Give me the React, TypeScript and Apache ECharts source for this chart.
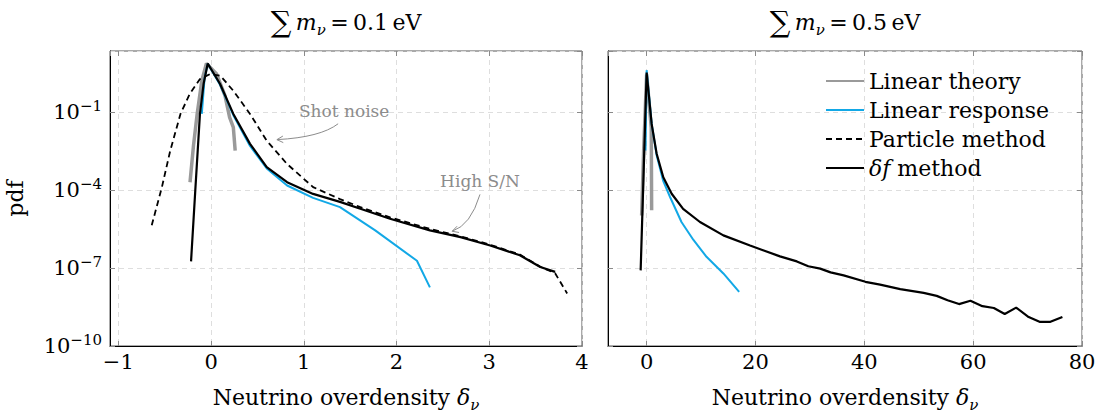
import React, { useEffect, useRef } from 'react';
import * as echarts from 'echarts';

const FONT = 'DejaVu Serif';

// ---------- Left panel: sum m_nu = 0.1 eV ----------
const ltX1 = [-0.227, -0.19, -0.15, -0.1, -0.05, 0.06, 0.15, 0.2, 0.24, 0.26];
const ltY1 = [2.0e-4, 5.0e-3, 8.5e-2, 1.6, 7.4, 2.9, 0.43, 6.3e-2, 2.6e-2, 3.3e-3];
const lrX1 = [-0.1, -0.07, -0.036, 0.097, 0.24, 0.42, 0.6, 0.82, 1.1, 1.39, 1.77, 2.22, 2.36];
const lrY1 = [8.5e-2, 2.0, 7.2, 1.12, 7.6e-2, 5.0e-3, 6.8e-4, 1.5e-4, 5.0e-5, 2.2e-5, 2.8e-6, 1.9e-7, 1.8e-8];
const pmX1 = [-0.64, -0.53, -0.44, -0.33, -0.23, -0.12, -0.01, 0.1, 0.24, 0.42, 0.6, 0.82, 1.1, 1.39, 1.61, 1.93, 2.36, 2.69, 3.01, 3.33, 3.55, 3.71, 3.84];
const pmY1 = [4.4e-6, 1.3e-4, 3.3e-3, 8.5e-2, 0.5, 1.86, 2.9, 2.5, 0.66, 8.5e-2, 7.9e-3, 1.0e-3, 1.3e-4, 4.5e-5, 2.2e-5, 8.9e-6, 3.2e-6, 1.66e-6, 7.9e-7, 3.3e-7, 1.12e-7, 6.3e-8, 1.05e-8];
const dfX1 = [-0.216, -0.17, -0.12, -0.08, -0.036, 0.097, 0.24, 0.42, 0.6, 0.82, 1.1, 1.39, 1.61, 1.93, 2.36, 2.69, 3.01, 3.33, 3.55, 3.71];
const dfY1 = [1.8e-7, 1.0e-4, 8.5e-2, 1.26, 7.4, 1.2, 8.5e-2, 6.0e-3, 7.6e-4, 2.0e-4, 7.1e-5, 3.5e-5, 1.9e-5, 7.9e-6, 2.8e-6, 1.55e-6, 7.4e-7, 3.1e-7, 1.1e-7, 7.1e-8];

// ---------- Right panel: sum m_nu = 0.5 eV ----------
const ltX2 = [-0.92, -0.55, 0, 0.85, 0.92];
const ltY2 = [1.05e-5, 3.2e-3, 2.8, 2.5e-2, 1.66e-5];
const lrX2 = [-0.2, 0, 0.92, 1.84, 3.06, 4.3, 6.4, 8.6, 11.0, 14.1, 17];
const lrY2 = [3.3e-3, 4.1, 3.5e-2, 2.2e-3, 2.2e-4, 5.4e-5, 5.9e-6, 1.2e-6, 2.7e-7, 6.2e-8, 1.2e-8];
const dfX2 = [-1.1, 0, 0.92, 1.84, 3.06, 4.6, 6.7, 9.8, 14.1, 19, 24.5, 27.6, 29.7, 31.9, 33.8, 36.2, 40.2, 42.9, 46.6, 50.9, 53.3, 55.3, 57.4, 59.5, 61.7, 63.8, 65.8, 67.9, 70.2, 72.2, 74.2, 76.4];
const dfY2 = [8.1e-8, 3.3, 3.5e-2, 2.5e-3, 3.1e-4, 7.2e-5, 1.9e-5, 5.9e-6, 1.8e-6, 7.4e-7, 2.8e-7, 1.8e-7, 1.17e-7, 9.5e-8, 6.8e-8, 5.2e-8, 2.95e-8, 2.3e-8, 1.55e-8, 1.1e-8, 8.5e-9, 5.8e-9, 4.1e-9, 5.5e-9, 3.4e-9, 2.9e-9, 1.7e-9, 3.0e-9, 1.3e-9, 8.5e-10, 8.5e-10, 1.3e-9];

// ---------- Axes ----------
const xRange1 = [-1.09, 4];
const xRange2 = [-7.1, 80];
const yRange = [1e-10, 22.4];
const yTickStep = 3; // decades between labelled ticks
const panelTitles = ['0.1', '0.5'];
const seriesNames = ['Linear theory', 'Linear response', 'Particle method', 'δf method'];

// annotations (data coordinates, left panel)
const notes = [
  { text: 'Shot noise', at: [1.435, 0.113], from: [1.37, 0.0355], ctrl: [1.18, 0.0107], to: [0.71, 0.0087] },
  { text: 'High S/N', at: [2.9, 2.3e-4], from: [2.9, 6.8e-5], ctrl: [2.8, 4.4e-6], to: [2.6, 2.6e-6] },
];

const COLORS = { lt: '#9a9a9a', lr: '#12a8e6', pm: '#000000', df: '#000000' };

const pair = (xs: number[], ys: number[]) => xs.map((x, i) => [x, ys[i]]);

const mathRich = (size: number) => ({
  t: { fontFamily: FONT, fontSize: size, lineHeight: 30, color: '#000' },
  i: { fontFamily: FONT, fontSize: size, fontStyle: 'italic', lineHeight: 30, color: '#000' },
  s: { fontFamily: FONT, fontSize: Math.round(size * 0.68), fontStyle: 'italic', lineHeight: 14, verticalAlign: 'bottom', color: '#000' },
  sum: { fontFamily: FONT, fontSize: Math.round(size * 1.3), lineHeight: 30, color: '#000' },
});

const fmtX = (v: number) => {
  if (Math.abs(v - Math.round(v)) > 1e-6) return '';
  const r = Math.round(v);
  return r < 0 ? '\u2212' + Math.abs(r) : String(r);
};
const fmtY = (v: number) => {
  if (Math.abs(v - Math.round(v)) > 1e-6) return '';
  const r = Math.round(v);
  return `{b|10}{p|${r < 0 ? '\u2212' : ''}${Math.abs(r)}}`;
};

const gridLine = { show: true, lineStyle: { color: '#dedede', type: [5, 4], width: 1 } };
const tickStyle = { show: true, inside: true, length: 5, lineStyle: { color: '#8a8a8a', width: 1 } };

function xAxes(gridIndex: number, range: number[], title: string) {
  return [
    {
      type: 'value', gridIndex, min: range[0], max: range[1], splitNumber: 5, position: 'bottom',
      axisLine: { show: true, onZero: false, lineStyle: { color: '#000', width: 1 } },
      axisTick: tickStyle,
      axisLabel: { formatter: fmtX, margin: 5, color: '#000', fontSize: 21, fontFamily: FONT, showMinLabel: false },
      splitLine: gridLine,
      name: '{t|Neutrino overdensity }{i|δ}{s|ν}', nameLocation: 'middle', nameGap: 36,
      nameTextStyle: { rich: mathRich(22) },
    },
    {
      type: 'value', gridIndex, min: range[0], max: range[1], splitNumber: 5, position: 'top',
      axisLine: { show: false, onZero: false },
      axisTick: tickStyle, axisLabel: { show: false }, splitLine: { show: false },
      name: `{sum|\u2211}{t|\u2009}{i|m}{s|ν}{t|\u2009=\u2009${title}\u2009eV}`, nameLocation: 'middle', nameGap: 14,
      nameTextStyle: { rich: mathRich(22) },
    },
  ];
}

function yAxes(gridIndex: number, labels: boolean) {
  const lmin = Math.log10(yRange[0]);
  const lmax = Math.log10(yRange[1]);
  return [
    { type: 'log', logBase: 10, gridIndex, min: yRange[0], max: yRange[1], show: false },
    {
      type: 'value', gridIndex, min: lmin, max: lmax, interval: yTickStep, position: 'left',
      axisLine: { show: true, onZero: false, lineStyle: { color: '#000', width: 1 } },
      axisTick: tickStyle,
      axisLabel: labels
        ? {
            formatter: fmtY, margin: 8, showMaxLabel: false,
            rich: {
              b: { fontFamily: FONT, fontSize: 21, lineHeight: 28, color: '#000' },
              p: { fontFamily: FONT, fontSize: 15, lineHeight: 14, verticalAlign: 'top', color: '#000' },
            },
          }
        : { show: false },
      splitLine: gridLine,
      name: labels ? 'pdf' : '', nameLocation: 'middle', nameGap: 84, nameRotate: 90,
      nameTextStyle: { fontFamily: FONT, fontSize: 22, color: '#000' },
    },
    {
      type: 'value', gridIndex, min: lmin, max: lmax, interval: yTickStep, position: 'right',
      axisLine: { show: false, onZero: false }, axisTick: tickStyle,
      axisLabel: { show: false }, splitLine: { show: false },
    },
  ];
}

function line(name: string, data: number[][], xi: number, yi: number, color: string, width: number, dashed = false, z = 2) {
  return {
    name, type: 'line', xAxisIndex: xi, yAxisIndex: yi, data, symbol: 'none', showSymbol: false,
    color, lineStyle: { color, width, type: dashed ? [6, 4] : 'solid' }, z, silent: true,
  };
}

const option: any = {
  animation: false,
  backgroundColor: '#ffffff',
  textStyle: { fontFamily: FONT },
  grid: [
    { left: 110, top: 51, width: 472, height: 295, show: true, borderColor: '#555', borderWidth: 1, containLabel: false, outerBoundsMode: 'none' },
    { left: 608, top: 51, width: 474, height: 295, show: true, borderColor: '#555', borderWidth: 1, containLabel: false, outerBoundsMode: 'none' },
  ],
  xAxis: [...xAxes(0, xRange1, panelTitles[0]), ...xAxes(1, xRange2, panelTitles[1])],
  yAxis: [...yAxes(0, true), ...yAxes(1, false)],
  legend: {
    orient: 'vertical', left: 825, top: 70, padding: 0, itemWidth: 38, itemHeight: 12, itemGap: 7,
    data: seriesNames,
    itemStyle: { opacity: 0, color: 'rgba(0,0,0,0)', borderWidth: 0 },
    formatter: (name: string) => (name === 'δf method' ? '{i|δf}{t| method}' : `{t|${name}}`),
    textStyle: {
      fontFamily: FONT, fontSize: 22, lineHeight: 22, color: '#000',
      rich: {
        t: { fontFamily: FONT, fontSize: 22, lineHeight: 22, color: '#000' },
        i: { fontFamily: FONT, fontSize: 22, lineHeight: 22, fontStyle: 'italic', color: '#000' },
      },
    },
  },
  series: [
    line(seriesNames[0], pair(ltX1, ltY1), 0, 0, COLORS.lt, 3.5),
    line(seriesNames[1], pair(lrX1, lrY1), 0, 0, COLORS.lr, 2),
    line(seriesNames[2], pair(pmX1, pmY1), 0, 0, COLORS.pm, 1.8, true),
    line(seriesNames[3], pair(dfX1, dfY1), 0, 0, COLORS.df, 2.2),
    line(seriesNames[0], pair(ltX2, ltY2), 2, 3, COLORS.lt, 3.5),
    line(seriesNames[1], pair(lrX2, lrY2), 2, 3, COLORS.lr, 2),
    line(seriesNames[3], pair(dfX2, dfY2), 2, 3, COLORS.df, 2.2),
  ],
};

export default function App() {
  const ref = useRef<HTMLDivElement>(null);
  useEffect(() => {
    const chart = echarts.init(ref.current!, null, { renderer: 'svg' });
    chart.setOption(option);
    const px = (p: number[]) => chart.convertToPixel({ xAxisIndex: 0, yAxisIndex: 0 }, p) as number[];
    const gray = '#8c8c8c';
    const elements: any[] = [];
    notes.forEach((n) => {
      const a = px(n.at), f = px(n.from), c = px(n.ctrl), t = px(n.to);
      elements.push({
        type: 'text', x: a[0], y: a[1], silent: true,
        style: { text: n.text, fill: gray, font: `17px "${FONT}"`, align: 'center', verticalAlign: 'middle' },
      });
      elements.push({
        type: 'bezierCurve', silent: true,
        shape: { x1: f[0], y1: f[1], x2: t[0], y2: t[1], cpx1: c[0], cpy1: c[1] },
        style: { stroke: gray, lineWidth: 1, fill: null },
      });
      const dx = t[0] - c[0], dy = t[1] - c[1];
      const L = Math.hypot(dx, dy) || 1;
      const ux = dx / L, uy = dy / L;
      const ang = (28 * Math.PI) / 180, len = 7;
      const rot = (s: number) => [
        t[0] - len * (ux * Math.cos(s * ang) - uy * Math.sin(s * ang)),
        t[1] - len * (ux * Math.sin(s * ang) + uy * Math.cos(s * ang)),
      ];
      elements.push({
        type: 'polyline', silent: true,
        shape: { points: [rot(1), t, rot(-1)] },
        style: { stroke: gray, lineWidth: 1, fill: null },
      });
    });
    chart.setOption({ graphic: elements });
    return () => chart.dispose();
  }, []);
  return <div ref={ref} style={{ position: 'absolute', left: 0, top: 0, width: 1104, height: 419 }} />;
}
